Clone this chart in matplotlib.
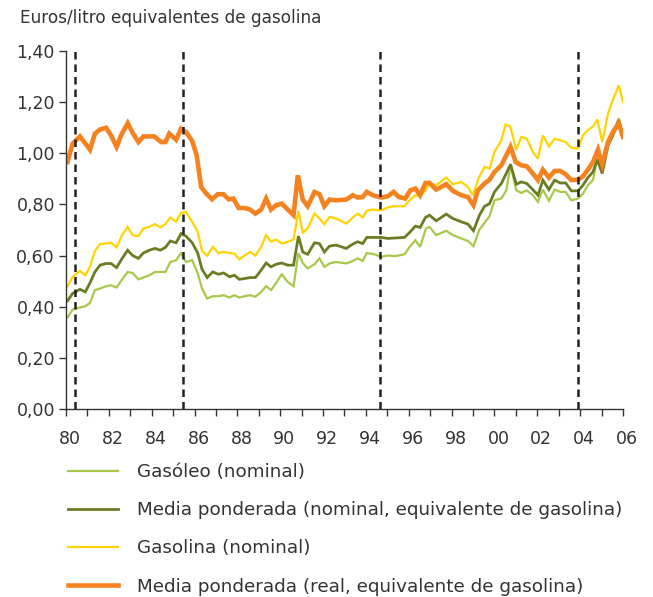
import matplotlib
matplotlib.use("Agg")
import matplotlib.pyplot as plt
import matplotlib.transforms as mtransforms
import numpy as np
from matplotlib.ticker import FuncFormatter

plt.rcParams['font.family'] = ['DejaVu Sans']

# years since 1980 at each vertex
t_a = [0.07, 0.31, 0.65, 0.9, 1.12, 1.35, 1.59, 1.87, 2.10, 2.36, 2.62, 2.88, 3.11, 3.38, 3.61, 3.89, 4.16, 4.40,
       4.64, 4.87, 5.14, 5.37, 5.60, 5.89, 6.15, 6.35, 6.59, 6.85, 7.11, 7.36, 7.63, 7.86, 8.09, 8.33, 8.59, 8.84]
t_c = [16.97, 17.28, 17.75, 18.06, 18.45, 18.76, 19.02, 19.3, 19.54, 19.77, 20.0, 20.32, 20.55, 20.75, 21.02, 21.25,
       21.51, 21.79, 22.03, 22.26, 22.54, 22.81, 23.07, 23.32, 23.59, 23.9, 24.13, 24.36, 24.6, 24.8, 25.03, 25.3,
       25.53, 25.8, 26.0]

# Gasóleo (nominal)
gasoleo_t = t_a + [9.11, 9.34, 9.57, 9.81, 10.07, 10.35, 10.62, 10.85, 11.05, 11.28, 11.6, 11.83, 12.06, 12.3,
                   12.61, 13.08, 13.39, 13.62, 13.85, 14.04, 14.4, 14.71, 15.02, 15.4, 15.8, 16.07, 16.31, 16.53,
                   16.8] + t_c
gasoleo = [0.358, 0.389, 0.397, 0.402, 0.415, 0.465, 0.471, 0.48, 0.484, 0.475, 0.507, 0.536, 0.532, 0.507, 0.514,
           0.523, 0.536, 0.536, 0.536, 0.575, 0.582, 0.61, 0.575, 0.582, 0.53, 0.471, 0.432, 0.441, 0.441, 0.445,
           0.436, 0.445, 0.436, 0.441, 0.445, 0.439,
           0.458, 0.48, 0.465, 0.493, 0.527, 0.497, 0.48, 0.61, 0.571, 0.55, 0.566, 0.589, 0.556, 0.569, 0.575,
           0.569, 0.579, 0.589, 0.579, 0.61, 0.605, 0.595, 0.60, 0.598, 0.605, 0.637, 0.66, 0.634, 0.706,
           0.712, 0.68, 0.697, 0.68, 0.667, 0.657, 0.637, 0.702, 0.728, 0.754, 0.816, 0.823, 0.855, 0.953, 0.855,
           0.845, 0.855, 0.836, 0.81, 0.858, 0.814, 0.858, 0.849, 0.849, 0.816, 0.823, 0.842, 0.875, 0.895, 0.983,
           0.94, 1.044, 1.077, 1.137, 1.07]

# Media ponderada (nominal)
media_nom_t = t_a + [9.11, 9.34, 9.57, 9.81, 10.07, 10.35, 10.62, 10.85, 11.05, 11.28, 11.6, 11.83, 12.06, 12.3,
                     12.61, 13.08, 13.39, 13.62, 13.85, 14.04, 14.71, 15.02, 15.8, 16.07, 16.31, 16.53,
                     16.78] + t_c
media_nom = [0.423, 0.452, 0.468, 0.458, 0.493, 0.536, 0.5625, 0.569, 0.569, 0.553, 0.589, 0.621, 0.60, 0.589,
             0.61, 0.621, 0.628, 0.621, 0.632, 0.657, 0.65, 0.686, 0.676, 0.65, 0.61, 0.546, 0.514, 0.536, 0.527,
             0.532, 0.517, 0.523, 0.507, 0.51, 0.514, 0.514,
             0.543, 0.571, 0.556, 0.566, 0.571, 0.5625, 0.5625, 0.676, 0.614, 0.605, 0.65, 0.647, 0.614, 0.637,
             0.641, 0.628, 0.645, 0.654, 0.647, 0.671, 0.671, 0.667, 0.671, 0.693, 0.715, 0.71, 0.749,
             0.758, 0.736, 0.762, 0.745, 0.732, 0.723, 0.697, 0.758, 0.793, 0.803, 0.849, 0.882, 0.921, 0.957,
             0.879, 0.888, 0.882, 0.858, 0.836, 0.895, 0.858, 0.895, 0.884, 0.884, 0.853, 0.853, 0.875, 0.905,
             0.927, 0.975, 0.921, 1.031, 1.07, 1.129, 1.064]

# Gasolina (nominal)
gasolina_t = t_a + [9.11, 9.34, 9.57, 9.81, 10.07, 10.35, 10.62, 10.85, 11.05, 11.28, 11.6, 11.83, 12.06, 12.3,
                    12.61, 13.08, 13.39, 13.62, 13.85, 14.04, 14.32, 14.71, 15.02, 15.29, 15.8, 16.07, 16.31,
                    16.53, 16.78] + \
    [16.97, 17.28, 17.75, 18.06, 18.45, 18.76, 18.99, 19.27, 19.54, 19.77, 20.0, 20.32, 20.52, 20.74, 21.02,
     21.25, 21.51, 21.79, 22.03, 22.26, 22.54, 22.81, 23.07, 23.32, 23.59, 23.9, 24.13, 24.36, 24.6, 24.8,
     25.03, 25.3, 25.53, 25.8, 26.0]
gasolina = [0.48, 0.517, 0.54, 0.523, 0.556, 0.618, 0.645, 0.647, 0.65, 0.632, 0.68, 0.712, 0.68, 0.676, 0.706,
            0.712, 0.723, 0.71, 0.723, 0.749, 0.732, 0.767, 0.771, 0.732, 0.693, 0.618, 0.60, 0.634, 0.61, 0.614,
            0.61, 0.608, 0.585, 0.60, 0.614, 0.60,
            0.634, 0.68, 0.654, 0.663, 0.647, 0.654, 0.663, 0.775, 0.689, 0.706, 0.764, 0.745, 0.723, 0.751,
            0.745, 0.725, 0.749, 0.764, 0.749, 0.775, 0.78, 0.777, 0.788, 0.793, 0.793, 0.819, 0.836, 0.832, 0.855,
            0.882, 0.875, 0.905, 0.879, 0.888, 0.868, 0.836, 0.905, 0.947, 0.94, 1.005, 1.051, 1.113, 1.105, 1.012,
            1.064, 1.057, 1.005, 0.979, 1.07, 1.027, 1.057, 1.051, 1.044, 1.022, 1.018, 1.07, 1.09, 1.105, 1.132,
            1.044, 1.155, 1.21, 1.266, 1.20]

# Media ponderada (real)
media_real_t = [0.07, 0.31, 0.65, 0.85, 1.12, 1.35, 1.59, 1.87, 2.10, 2.36, 2.57, 2.88, 3.11, 3.38, 3.61, 4.12,
                4.44, 4.64, 4.82, 5.14, 5.37, 5.60, 5.89, 6.10, 6.31, 6.54, 6.82, 7.08, 7.35, 7.59, 7.81, 8.06,
                8.33, 8.59, 8.84,
                9.11, 9.34, 9.57, 9.81, 10.07, 10.35, 10.62, 10.82, 11.05, 11.28, 11.6, 11.83, 12.06, 12.3, 12.61,
                13.08, 13.39, 13.62, 13.85, 14.04, 14.32, 14.71, 15.02, 15.29, 15.53, 15.83, 16.07, 16.31, 16.53,
                16.78,
                16.97, 17.28, 17.75, 18.06, 18.45, 18.76, 19.02, 19.22, 19.54, 19.77, 20.0, 20.32, 20.55, 20.75,
                20.99, 21.25, 21.51, 21.79, 22.03, 22.26, 22.54, 22.81, 23.07, 23.32, 23.59, 23.9, 24.13, 24.36,
                24.6, 24.83, 25.03, 25.3, 25.53, 25.8, 26.0]
media_real = [0.966, 1.038, 1.066, 1.044, 1.014, 1.077, 1.093, 1.10, 1.07, 1.025, 1.07, 1.118, 1.08, 1.044, 1.066,
              1.066, 1.044, 1.044, 1.077, 1.053, 1.096, 1.083, 1.048, 0.992, 0.868, 0.843, 0.82, 0.84, 0.84, 0.82,
              0.823, 0.786, 0.786, 0.78, 0.764,
              0.78, 0.823, 0.78, 0.797, 0.803, 0.78, 0.758, 0.914, 0.819, 0.793, 0.849, 0.84, 0.793, 0.819, 0.816,
              0.819, 0.836, 0.827, 0.829, 0.849, 0.836, 0.827, 0.832, 0.849, 0.829, 0.823, 0.855, 0.862, 0.836,
              0.884,
              0.884, 0.858, 0.879, 0.853, 0.836, 0.829, 0.797, 0.855, 0.882, 0.897, 0.927, 0.953, 0.992, 1.025,
              0.966, 0.953, 0.949, 0.921, 0.895, 0.936, 0.905, 0.931, 0.931, 0.918, 0.895, 0.897, 0.91, 0.936,
              0.966, 1.014, 0.957, 1.044, 1.083, 1.118, 1.064]

cortes = [1980.43, 1985.48, 1994.68, 2003.88]

series = [
    (gasoleo_t, gasoleo, '#a9c84b', 1.6, 'Gasóleo (nominal)'),
    (media_nom_t, media_nom, '#6b7d24', 2.0, 'Media ponderada (nominal, equivalente de gasolina)'),
    (gasolina_t, gasolina, '#ffd400', 1.6, 'Gasolina (nominal)'),
    (media_real_t, media_real, '#f5821f', 3.3, 'Media ponderada (real, equivalente de gasolina)'),
]

gris = '#333333'
fig = plt.figure(figsize=(6.53, 5.97), dpi=100)
ax = fig.add_axes([66 / 653, 1 - 409 / 597, (623 - 66) / 653, (409 - 51) / 597])

for t, v, color, lw, label in series:
    ax.plot(1980 + np.array(t), v, color=color, lw=lw, label=label, solid_joinstyle='miter')

for c in cortes:
    ax.axvline(c, color='#222222', lw=1.8, ls=(0, (3, 2)), zorder=5)

ax.set_xlim(1980, 2006)
ax.set_ylim(0, 1.4)
anios = np.arange(1980, 2007)
ax.set_xticks(anios)
ax.set_xticklabels([f"{a % 100:02d}" if a % 2 == 0 else '' for a in anios])
ax.set_yticks(np.arange(0, 1.41, 0.2))
ax.yaxis.set_major_formatter(FuncFormatter(lambda v, p: f"{v:.2f}".replace('.', ',')))
ax.tick_params(axis='x', length=5, width=1, color=gris, labelcolor=gris, labelsize=12.5, pad=10)
ax.tick_params(axis='y', length=5, width=1, color=gris, labelcolor=gris, labelsize=12.5, pad=3)
desplazar = mtransforms.ScaledTranslation(0.04, 0, fig.dpi_scale_trans)
for lab in ax.get_xticklabels():
    lab.set_transform(lab.get_transform() + desplazar)
for s in ['top', 'right']:
    ax.spines[s].set_visible(False)
for s in ['left', 'bottom']:
    ax.spines[s].set_color(gris)
    ax.spines[s].set_linewidth(1.0)

fig.text(20 / 653, 1 - 18 / 597, 'Euros/litro equivalentes de gasolina', fontsize=12.2, color=gris, va='center')

fig.legend(loc='upper left', bbox_to_anchor=(68 / 653, 1 - 463 / 597), frameon=False, fontsize=13.2,
           handlelength=2.7, handletextpad=1.05, labelspacing=1.1, borderpad=0, borderaxespad=0,
           labelcolor=gris)

fig.savefig('out.png', dpi=100)
